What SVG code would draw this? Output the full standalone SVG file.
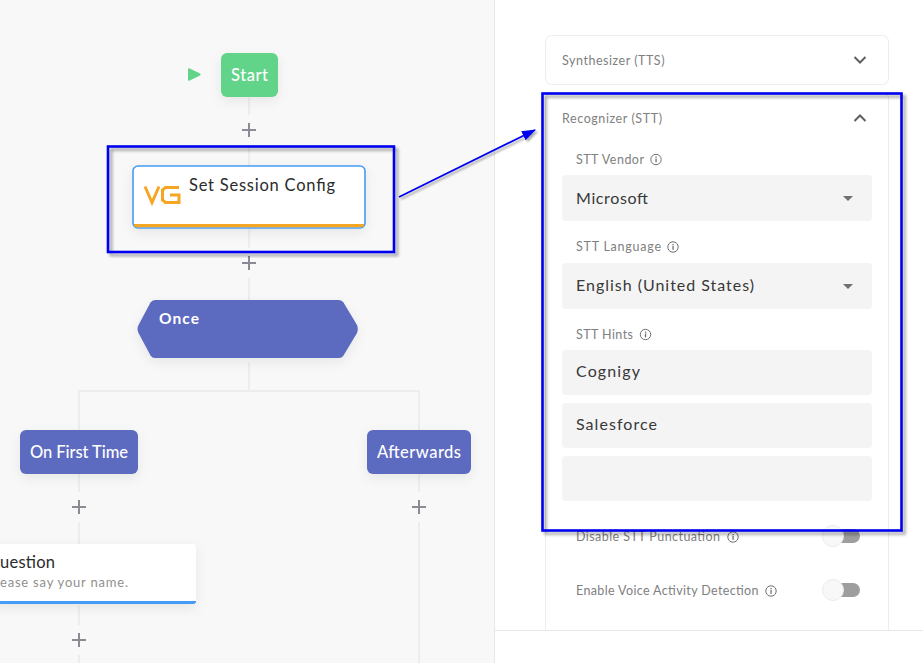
<svg xmlns="http://www.w3.org/2000/svg" width="923" height="663" viewBox="0 0 923 663">
<defs>
<filter id="soft" x="-30%" y="-40%" width="160%" height="190%"><feDropShadow dx="0" dy="4" stdDeviation="6" flood-color="#000" flood-opacity="0.07"/></filter>
<filter id="hard" x="-5%" y="-5%" width="110%" height="110%"><feDropShadow dx="3" dy="3" stdDeviation="1.5" flood-color="#000" flood-opacity="0.35"/></filter>
<filter id="hardline" filterUnits="userSpaceOnUse" x="380" y="110" width="170" height="110"><feDropShadow dx="2" dy="2" stdDeviation="1.2" flood-color="#000" flood-opacity="0.35"/></filter>
<marker id="arrow" markerUnits="userSpaceOnUse" markerWidth="14" markerHeight="12" refX="13" refY="5" orient="auto"><path d="M0 0L14 5L0 10Z" fill="#0000f0"/></marker>
<g id="info"><circle cx="0" cy="0" r="5.2" fill="none" stroke="#707070" stroke-width="1"/><rect x="-0.6" y="-1" width="1.3" height="3.8" fill="#707070"/><rect x="-0.6" y="-3" width="1.3" height="1.3" fill="#707070"/></g>
<path id="plus" d="M-7 0H7M0 -7V7" fill="none" stroke="#8b8b96" stroke-width="2"/>
</defs>
<style>
text{font-family:"Lato","Open Sans","Liberation Sans",sans-serif}
.wire{fill:none;stroke:#ededed;stroke-width:2}
.w{fill:#fff;font-size:16.5px;font-weight:500;text-anchor:middle}
.t{fill:#2b2b2b;font-size:16.5px}
.sub{fill:#8f8f8f;font-size:13px}
.lab{fill:#808080;font-size:12.5px}
.val{fill:#383838;font-size:16px}
.field{fill:#f4f4f4}
.card{fill:#fff;stroke:#ececec;stroke-width:1}
.chev{fill:none;stroke:#606060;stroke-width:2}
.caret{fill:#707070}
.track{fill:#9e9e9e}
.knob{fill:#f8f8f8;stroke:#ececec;stroke-width:1}
.blue{fill:none;stroke:#0000f0;stroke-width:2.6;filter:url(#hard)}
</style>
<rect x="0" y="0" width="495" height="663" fill="#f8f8f8"/>
<rect x="494" y="0" width="429" height="663" fill="#fff"/>
<path d="M494.500 0V663" stroke="#e8e8e8" fill="none"/>
<g id="connectors">
<path class="wire" d="M249 97V115M249 145V165M249 229V248M249 278V300M249 362V391M79 430V391H419V430M79 474V492M419 474V492M79 522V544M419 522V663M79 605V625M79 655V663"/>
<use href="#plus" x="249" y="130"/><use href="#plus" x="249" y="263"/><use href="#plus" x="79" y="507"/><use href="#plus" x="419" y="507"/><use href="#plus" x="79" y="640"/>
</g>
<g id="play"><path d="M188 69.500Q188 67.800 189.700 68.500L200 73.500Q201.500 74.500 200 75.500L189.700 80.500Q188 81.200 188 79.500Z" fill="#62d48a"/></g>
<g id="start"><rect x="221" y="53" width="57" height="44" rx="6" fill="#62d48a" filter="url(#soft)"/><text class="w" x="249.500" y="81" textLength="37">Start</text></g>
<g id="set-session-config">
<rect x="133" y="166" width="232" height="62" rx="5" fill="#fff" stroke="#449cf5" stroke-width="1.600" filter="url(#soft)"/>
<path d="M134 224H364V225Q364 227.300 361.500 227.300H136.500Q134 227.300 134 225Z" fill="#f5a623"/>
<path d="M145 186.500L152 202.500L159 186.500M179 187.500H165.500L162.500 190V200L165.500 202.500H179V195H170" fill="none" stroke="#f5a623" stroke-width="3"/>
<text class="t" x="189" y="191" textLength="146">Set Session Config</text>
</g>
<g id="once">
<path d="M155 300H339Q342 300 343.500 302.500L357 325Q358.500 329 357 333L343.500 355.500Q342 358 339 358H155Q152 358 150.500 355.500L138.500 333Q136.500 329 138.500 325L150.500 302.500Q152 300 155 300Z" fill="#5c6bc0" filter="url(#soft)"/>
<text x="159" y="324" fill="#fff" font-size="15.500" font-weight="700" textLength="40">Once</text>
</g>
<g id="on-first-time"><rect x="20" y="430" width="118" height="44" rx="6" fill="#5c6bc0" filter="url(#soft)"/><text class="w" x="79" y="458" textLength="98">On First Time</text></g>
<g id="afterwards"><rect x="367" y="430" width="104" height="44" rx="6" fill="#5c6bc0" filter="url(#soft)"/><text class="w" x="419" y="458" textLength="84">Afterwards</text></g>
<g id="question">
<path d="M-6 544H192Q196 544 196 548V604H-6Z" fill="#fff" filter="url(#soft)"/>
<path d="M0 601H196V601.500Q196 604 193 604H0Z" fill="#449cf5"/>
<text class="t" x="0" y="568" textLength="55">uestion</text>
<text class="sub" x="0" y="587" textLength="128">ease say your name.</text>
</g>
<g id="panel">
<g id="tts"><rect class="card" x="545.500" y="35.500" width="343" height="49" rx="6"/><text class="lab" x="562" y="65" textLength="102.500">Synthesizer (TTS)</text><path class="chev" d="M854.500 57L860 62.500L865.500 57"/></g>
<g id="stt">
<path class="card" d="M545.500 630V99Q545.500 93.500 551 93.500H883Q888.500 93.500 888.500 99V630"/>
<text class="lab" x="562" y="123" textLength="100">Recognizer (STT)</text><path class="chev" d="M854.500 121L860 115.500L865.500 121"/>
<text class="lab" x="576" y="164" textLength="68">STT Vendor</text><use href="#info" x="656" y="159.500"/>
<rect class="field" x="562" y="175" width="310" height="46" rx="4"/><text class="val" x="576" y="203.500" textLength="72">Microsoft</text><path class="caret" d="M843 196H853L848 201Z"/>
<text class="lab" x="576" y="251" textLength="85">STT Language</text><use href="#info" x="673" y="247"/>
<rect class="field" x="562" y="263" width="310" height="46" rx="4"/><text class="val" x="576" y="291" textLength="178">English (United States)</text><path class="caret" d="M843 284H853L848 289Z"/>
<text class="lab" x="576" y="339" textLength="57">STT Hints</text><use href="#info" x="645.500" y="334.500"/>
<rect class="field" x="562" y="350" width="310" height="45" rx="4"/><text class="val" x="576" y="377" textLength="64">Cognigy</text>
<rect class="field" x="562" y="403" width="310" height="45" rx="4"/><text class="val" x="576" y="430" textLength="81">Salesforce</text>
<rect class="field" x="562" y="456" width="310" height="45" rx="4"/>
<text class="lab" x="576" y="541" textLength="144">Disable STT Punctuation</text><use href="#info" x="733" y="537"/>
<rect class="track" x="835" y="529" width="25" height="14" rx="7"/><circle class="knob" cx="833" cy="536" r="10.500"/>
<text class="lab" x="576" y="595" textLength="182.500">Enable Voice Activity Detection</text><use href="#info" x="771" y="591"/>
<rect class="track" x="835" y="583" width="25" height="14" rx="7"/><circle class="knob" cx="833" cy="590" r="10.500"/>
</g>
<path d="M495 630.500H923" stroke="#e6e6e6" fill="none"/>
</g>
<g id="callouts">
<rect class="blue" x="108" y="146.500" width="286" height="105.500"/>
<rect class="blue" x="542.500" y="93.500" width="359" height="437"/>
<path d="M399 197L535 130" fill="none" stroke="#0000f0" stroke-width="1.800" marker-end="url(#arrow)" filter="url(#hardline)"/>
</g>
</svg>
